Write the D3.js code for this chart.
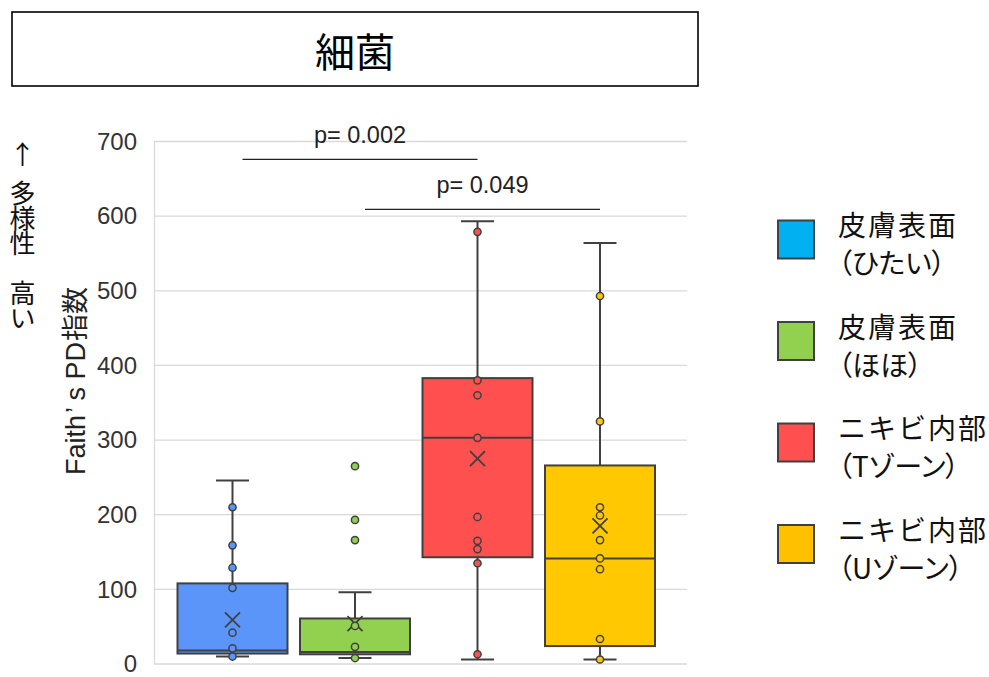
<!DOCTYPE html>
<html lang="ja">
<head>
<meta charset="utf-8">
<script src="https://cdn.jsdelivr.net/npm/d3@7"></script>
<style>
  html, body { margin: 0; padding: 0; background: #fff; }
  svg { display: block; }
  .num { font-family: "Liberation Sans", Arial, "Noto Sans CJK JP", sans-serif; }
  .jp { font-family: "Noto Sans CJK JP", "Noto Sans", sans-serif; }
  .vert { writing-mode: vertical-rl; text-orientation: upright; }
</style>
</head>
<body>
<svg id="chart" width="989" height="677"></svg>
<script>
// Faith's PD per sampling site (bacteria)
const titleText = "細菌";
const groups = ["ひたい", "ほほ", "Tゾーン", "Uゾーン"];
const legendLine1 = ["皮膚表面", "皮膚表面", "ニキビ内部", "ニキビ内部"];
const legendLine2 = ["（ひたい）", "（ほほ）", "（Tゾーン）", "（Uゾーン）"];
const boxColors = ["#5B95F9", "#92D050", "#FF5050", "#FFC800"];
const legendColors = ["#00B0F0", "#92D050", "#FF4F4F", "#FFC000"];

// box summaries
const whiskerLow  = [10, 8, 6, 6];
const q1          = [14, 13, 143, 24];
const median      = [18, 16, 303, 141.5];
const q3          = [108, 61, 383, 266];
const whiskerHigh = [246, 96, 593, 564];
const means       = [59, 54, 275, 185];

// individual samples
const ptsHitai = [210, 159, 129, 102, 42, 21, 10];
const ptsHoho  = [265, 193, 166, 51, 23, 8];
const ptsT     = [579, 380, 360, 303, 197, 165, 154, 135, 13];
const ptsU     = [493, 325, 210, 199, 166, 141.5, 127, 33.5, 6];
const points = [ptsHitai, ptsHoho, ptsT, ptsU];

const yTicks = [0, 100, 200, 300, 400, 500, 600, 700];

// significance brackets: [from group, to group, level, label]
const brackets = [
  { from: 0, to: 2, level: 676, label: "p= 0.002" },
  { from: 1, to: 3, level: 609, label: "p= 0.049" }
];

const svg = d3.select("#chart");
const ink = "#404040";

const plot = { left: 154, right: 687, top: 141.5, bottom: 664 };
const y = d3.scaleLinear().domain([0, 700]).range([plot.bottom, plot.top]);
const x = d3.scalePoint().domain(d3.range(groups.length)).range([232.5, 600]);
const boxW = 110, capW = 33;

// title box
svg.append("rect").attr("x", 12).attr("y", 12).attr("width", 686).attr("height", 74)
  .attr("fill", "#fff").attr("stroke", "#000").attr("stroke-width", 1.6);
svg.append("text").attr("class", "jp").attr("x", 355).attr("y", 50)
  .attr("text-anchor", "middle").attr("dominant-baseline", "central")
  .attr("font-size", 40).attr("fill", "#000").text(titleText);

// gridlines
svg.append("g").selectAll("line").data(yTicks.filter(t => t > 0)).join("line")
  .attr("x1", plot.left).attr("x2", plot.right)
  .attr("y1", d => y(d)).attr("y2", d => y(d))
  .attr("stroke", "#d9d9d9").attr("stroke-width", 1.3);

// y axis
const yAxis = svg.append("g").attr("transform", `translate(${plot.left},0)`)
  .call(d3.axisLeft(y).tickValues(yTicks).tickSize(0).tickPadding(17));
yAxis.select(".domain").attr("stroke", "#d9d9d9").attr("stroke-width", 1.3);
yAxis.selectAll("text").attr("class", "num").attr("font-size", 24).attr("fill", "#333");
svg.append("line").attr("x1", plot.left).attr("x2", plot.right)
  .attr("y1", y(0)).attr("y2", y(0)).attr("stroke", "#d9d9d9").attr("stroke-width", 1.3);

// axis title
const at = svg.append("text").attr("class", "num")
  .attr("transform", `translate(85,381) rotate(-90)`)
  .attr("text-anchor", "middle").attr("font-size", 27).attr("fill", "#222");
at.append("tspan").text("Faith");
at.append("tspan").attr("dx", 2).text("’");
at.append("tspan").attr("dx", 7).text("s PD");
at.append("tspan").attr("class", "jp").attr("dx", 1).text("指数");

// side note: arrow plus vertical caption
svg.append("text").attr("class", "jp").attr("x", 22.5).attr("y", 152)
  .attr("text-anchor", "middle").attr("dominant-baseline", "central")
  .attr("font-size", 26).attr("fill", "#111").text("↑");
svg.append("text").attr("class", "jp vert").attr("x", 22.5).attr("y", 180)
  .attr("font-size", 26).attr("letter-spacing", -1).attr("fill", "#111")
  .text("多様性 高い");

// boxes
const g = svg.append("g").selectAll("g").data(groups).join("g")
  .attr("transform", (d, i) => `translate(${x(i)},0)`);

g.append("line") // whisker
  .attr("x1", 0).attr("x2", 0)
  .attr("y1", (d, i) => y(whiskerLow[i])).attr("y2", (d, i) => y(whiskerHigh[i]))
  .attr("stroke", ink).attr("stroke-width", 2);
g.append("line").attr("x1", -capW / 2).attr("x2", capW / 2)
  .attr("y1", (d, i) => y(whiskerHigh[i])).attr("y2", (d, i) => y(whiskerHigh[i]))
  .attr("stroke", ink).attr("stroke-width", 2);
g.append("line").attr("x1", -capW / 2).attr("x2", capW / 2)
  .attr("y1", (d, i) => y(whiskerLow[i])).attr("y2", (d, i) => y(whiskerLow[i]))
  .attr("stroke", ink).attr("stroke-width", 2);
g.append("rect")
  .attr("x", -boxW / 2).attr("width", boxW)
  .attr("y", (d, i) => y(q3[i])).attr("height", (d, i) => y(q1[i]) - y(q3[i]))
  .attr("fill", (d, i) => boxColors[i]).attr("stroke", ink).attr("stroke-width", 2);
g.append("line").attr("x1", -boxW / 2).attr("x2", boxW / 2)
  .attr("y1", (d, i) => y(median[i])).attr("y2", (d, i) => y(median[i]))
  .attr("stroke", ink).attr("stroke-width", 2);

// mean markers
g.append("path")
  .attr("d", (d, i) => { const c = y(means[i]), s = 7.5;
    return `M${-s},${c - s}L${s},${c + s}M${s},${c - s}L${-s},${c + s}`; })
  .attr("stroke", ink).attr("stroke-width", 1.8).attr("fill", "none");

// samples
g.each(function (d, i) {
  d3.select(this).selectAll("circle").data(points[i]).join("circle")
    .attr("cx", 0).attr("cy", v => y(v)).attr("r", 3.6)
    .attr("fill", boxColors[i]).attr("stroke", ink).attr("stroke-width", 1.5);
});

// significance brackets
const br = svg.append("g").selectAll("g").data(brackets).join("g");
br.append("line")
  .attr("x1", d => x(d.from) + 10).attr("x2", d => x(d.to))
  .attr("y1", d => y(d.level)).attr("y2", d => y(d.level))
  .attr("stroke", "#222").attr("stroke-width", 1.3);
br.append("text").attr("class", "num")
  .attr("x", d => (x(d.from) + 10 + x(d.to)) / 2).attr("y", d => y(d.level) - 16.5)
  .attr("text-anchor", "middle").attr("font-size", 23.5).attr("fill", "#222")
  .text(d => d.label);

// legend
const lg = svg.append("g").selectAll("g").data(groups).join("g")
  .attr("transform", (d, i) => `translate(778,${239.5 + i * 101.5})`);
lg.append("rect").attr("x", 0).attr("y", -19).attr("width", 36).attr("height", 38)
  .attr("fill", (d, i) => legendColors[i]).attr("stroke", ink).attr("stroke-width", 2);
lg.append("text").attr("class", "jp").attr("x", 60).attr("y", -15.5)
  .attr("dominant-baseline", "central").attr("font-size", 28).attr("letter-spacing", 2)
  .attr("fill", "#111").text((d, i) => legendLine1[i]);
lg.append("text").attr("class", "jp").attr("x", 60).attr("y", 22.5)
  .attr("dominant-baseline", "central").attr("font-size", 28)
  .style("font-feature-settings", "'palt'")
  .attr("fill", "#111").text((d, i) => legendLine2[i]);
</script>
</body>
</html>
